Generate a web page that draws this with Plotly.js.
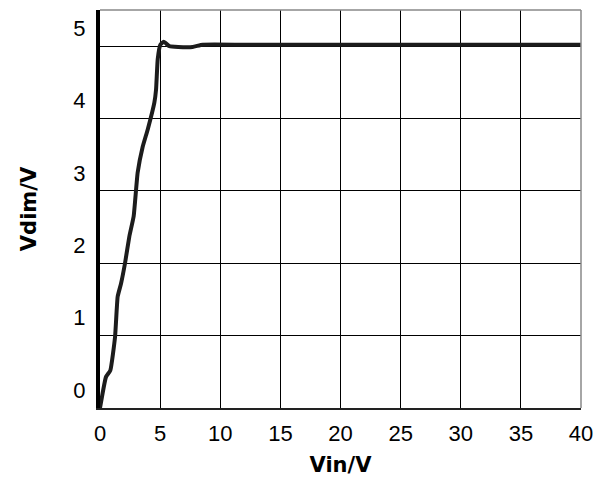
<!DOCTYPE html>
<html>
<head>
<meta charset="utf-8">
<script src="https://cdn.plot.ly/plotly-3.0.1.min.js"></script>
<style>html,body{margin:0;padding:0;background:#fff;}#chart{width:613px;height:488px;}</style>
</head>
<body>
<div id="chart"></div>
<script>
// Data
const vin  = [0, 0.5, 0.86, 1.25, 1.47, 1.75, 2.08, 2.44, 2.8, 3.13, 3.55, 3.97, 4.52, 4.66, 4.8, 5.02, 5.3, 5.77, 6.5, 7.7, 8.54, 12, 20, 30, 40];
const vdim = [0, 0.43, 0.52, 0.98, 1.54, 1.72, 2.0, 2.37, 2.65, 3.25, 3.61, 3.85, 4.22, 4.40, 4.82, 5.02, 5.06, 5.0, 4.99, 4.99, 5.02, 5.02, 5.02, 5.02, 5.02];
const xTicks = [0, 5, 10, 15, 20, 25, 30, 35, 40];
const yTickLabels = ['0', '1', '2', '3', '4', '5'];
const yLabelOffset = 0.25; // labels sit above their gridlines in the reference

const trace = {
  x: vin, y: vdim, type: 'scatter', mode: 'lines',
  line: {color: '#1c1c1c', width: 4, shape: 'spline', smoothing: 0.4},
  hoverinfo: 'skip'
};

const tickFont = {family: 'Liberation Sans, Arial, sans-serif', size: 22, color: '#000'};
const titleFont = {family: 'DejaVu Sans, sans-serif', size: 21, color: '#000', weight: 'bold'};

const layout = {
  width: 613, height: 488,
  margin: {l: 100, r: 32, t: 10, b: 80, pad: 0},
  paper_bgcolor: '#fff', plot_bgcolor: '#fff',
  showlegend: false,
  xaxis: {
    range: [0, 40], tickvals: xTicks, ticktext: xTicks.map(String),
    showgrid: true, gridcolor: '#000', gridwidth: 1,
    zeroline: false, showline: true, linecolor: '#222', linewidth: 2,
    ticks: '', ticklabelstandoff: 5, tickfont: tickFont,
    title: {text: 'Vin/V', font: titleFont, standoff: 12}
  },
  yaxis: {
    range: [0, 5.5],
    tickvals: yTickLabels.map((t, i) => i + yLabelOffset), ticktext: yTickLabels,
    showgrid: false, zeroline: false, showline: true, linecolor: '#000', linewidth: 4,
    ticks: '', ticklabelstandoff: 6, tickfont: tickFont,
    minor: {tick0: 0, dtick: 1, showgrid: true, gridcolor: '#000', gridwidth: 1, ticks: ''},
    title: {text: 'Vdim/V', font: titleFont, standoff: 32}
  },
  shapes: [
    {type: 'line', xref: 'paper', yref: 'paper', x0: 0, x1: 1, y0: 1, y1: 1, line: {color: '#888', width: 1.5}},
    {type: 'line', xref: 'paper', yref: 'paper', x0: 1, x1: 1, y0: 0, y1: 1, line: {color: '#888', width: 1.5}}
  ]
};

Plotly.newPlot('chart', [trace], layout, {staticPlot: true, displayModeBar: false});
</script>
</body>
</html>
